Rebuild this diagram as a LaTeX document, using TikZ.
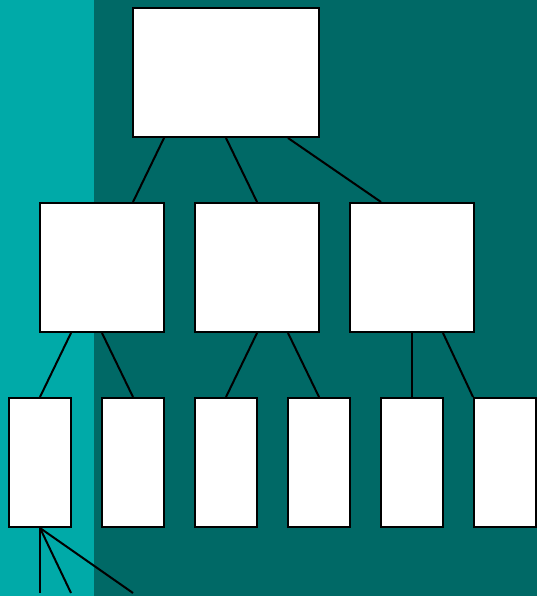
\documentclass[tikz,border=0pt]{standalone}
\usetikzlibrary{calc}
\definecolor{lightteal}{RGB}{0,170,168}
\definecolor{darkteal}{RGB}{0,105,102}
\begin{document}
\begin{tikzpicture}[x=1pt,y=-1pt,
  box/.style={draw=black,fill=white,line width=2pt,inner sep=0pt,minimum height=129pt},
  topbox/.style={box,minimum width=186pt},
  midbox/.style={box,minimum width=124pt},
  lowbox/.style={box,minimum width=62pt},
  link/.style={draw=black,line width=2pt}]
\useasboundingbox (0,0) rectangle (537,596);
\fill[darkteal] (0,0) rectangle (537,596);
\fill[lightteal] (0,0) rectangle (94,596);
\node[topbox] (t) at (226,72.5) {};
\node[midbox] (m1) at (102,267.5) {};
\node[midbox] (m2) at (257,267.5) {};
\node[midbox] (m3) at (412,267.5) {};
\node[lowbox] (b1) at (40,462.5) {};
\node[lowbox] (b2) at (133,462.5) {};
\node[lowbox] (b3) at (226,462.5) {};
\node[lowbox] (b4) at (319,462.5) {};
\node[lowbox] (b5) at (412,462.5) {};
\node[lowbox] (b6) at (505,462.5) {};
\coordinate (e1) at (40,593);
\coordinate (e2) at (71,593);
\coordinate (e3) at (133,593);
\path[link] ([xshift=-62pt]t.south) -- ([xshift=31pt]m1.north);
\path[link] (t.south) -- (m2.north);
\path[link] ([xshift=62pt]t.south) -- ([xshift=-31pt]m3.north);
\path[link] ([xshift=-31pt]m1.south) -- (b1.north);
\path[link] (m1.south) -- (b2.north);
\path[link] (m2.south) -- (b3.north);
\path[link] ([xshift=31pt]m2.south) -- (b4.north);
\path[link] (m3.south) -- (b5.north);
\path[link] ([xshift=31pt]m3.south) -- (b6.north west);
\path[link] (b1.south) -- (e1);
\path[link] (b1.south) -- (e2);
\path[link] (b1.south) -- (e3);
\end{tikzpicture}
\end{document}
